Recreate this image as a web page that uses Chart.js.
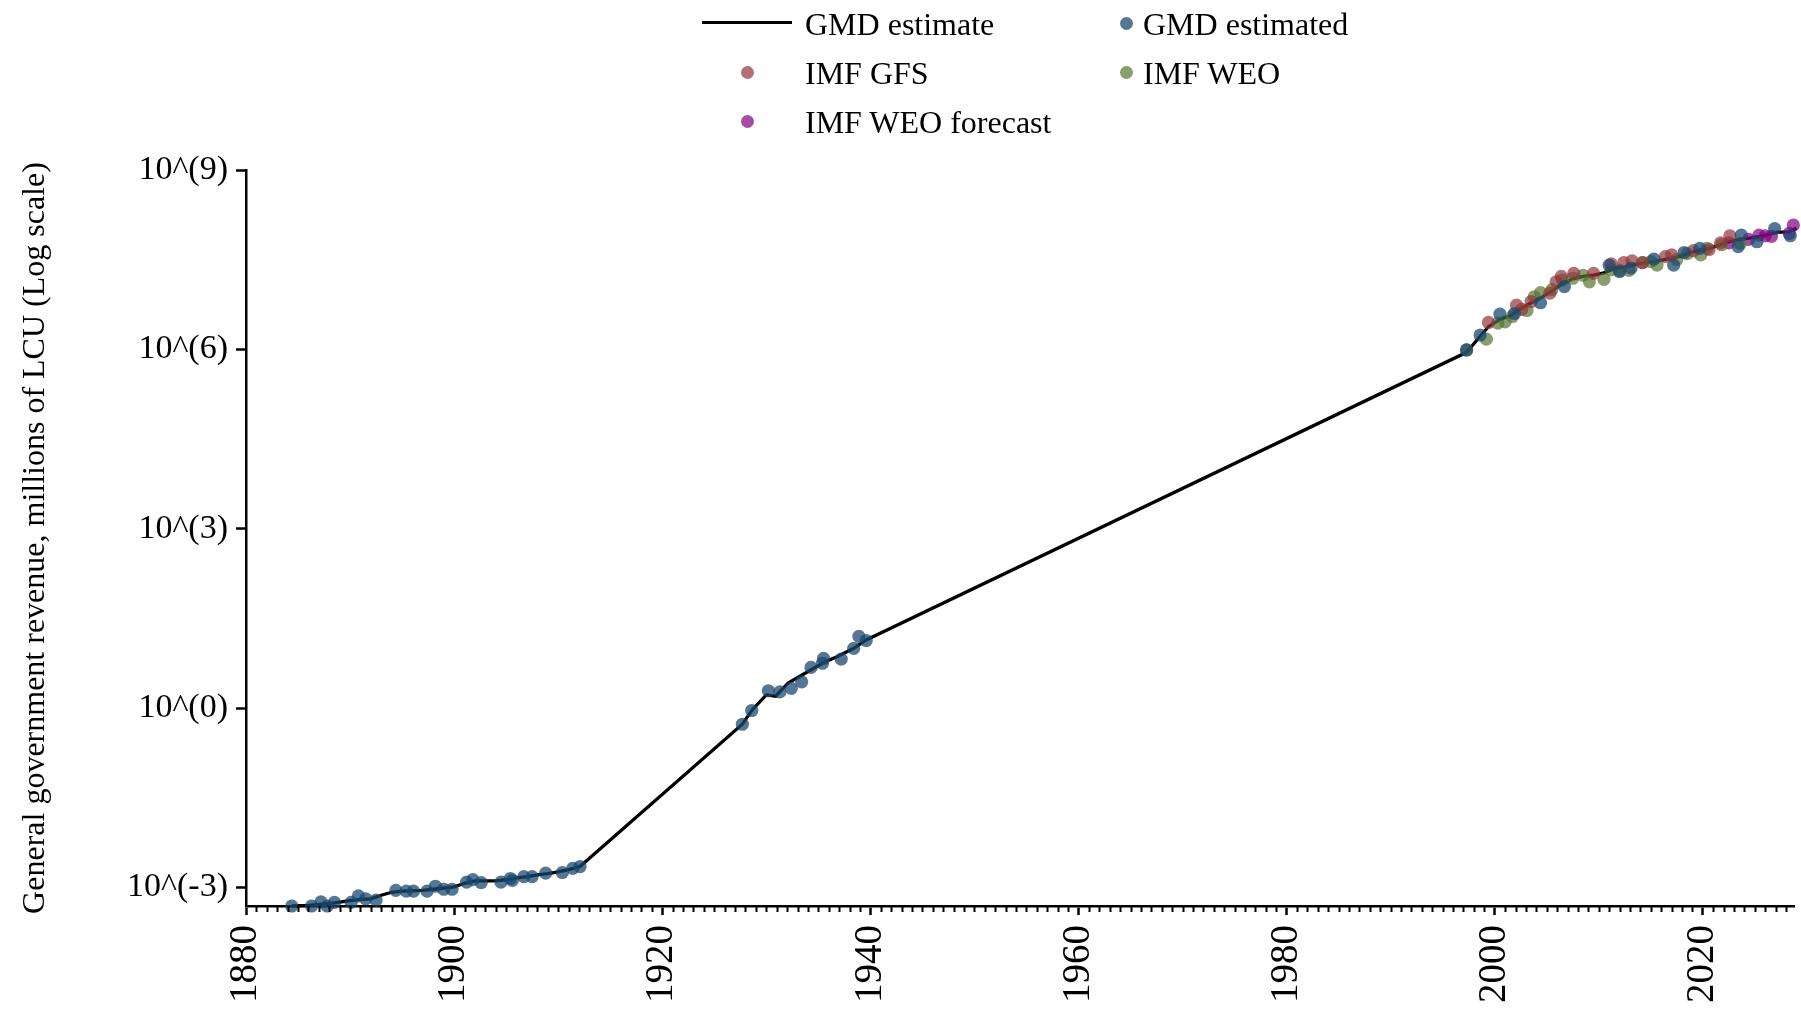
<!DOCTYPE html>
<html>
<head>
<meta charset="utf-8">
<title>General government revenue</title>
<script src="https://cdn.jsdelivr.net/npm/chart.js@4.4.0/dist/chart.umd.min.js"></script>
<style>
    html, body { margin: 0; padding: 0; background: #fff; }
    #wrap { position: relative; width: 1801px; height: 1011px; overflow: hidden; }
    #legend {
        position: absolute; left: 702px; top: 0;
        display: grid; grid-template-columns: 103px 315px 23px auto; grid-auto-rows: 49px;
        align-items: center;
        font-family: "Liberation Serif", "Times New Roman", serif; font-size: 32px; color: #000;
    }
    .sym { position: relative; height: 49px; }
    .sym .line { position: absolute; left: 0; width: 90px; top: 21px; height: 3px; background: #000; }
    .sym .dot { position: absolute; width: 13px; height: 13px; border-radius: 50%; top: 17px; }
</style>
</head>
<body>
<div id="wrap">
    <canvas id="myChart"></canvas>
    <div id="legend"></div>
</div>
<script>
// axis ticks
const xTicks = [1880, 1900, 1920, 1940, 1960, 1980, 2000, 2020];
const yTicks = [-3, 0, 3, 6, 9];

// values are log10(revenue, millions of LCU), the axis is labelled 10^(n)
// GMD estimate (line)
const lineYears = [1884.4, 1886, 1888, 1890, 1891, 1892, 1893, 1894, 1895, 1897, 1898, 1900, 1901, 1902, 1904, 1905, 1906, 1907, 1908, 1909, 1910, 1911, 1912.1,
    1927.7, 1928.6, 1930.0, 1930.9, 1932.1, 1933.4, 1934.5, 1935.7, 1936.8, 1938.4, 1939.6,
    1997.3, 1998.6, 1999.4, 2000.5, 2001.5, 2002.5, 2003.5, 2004.5, 2005.5, 2006.5, 2007.5, 2008.5, 2009.5, 2010.5, 2011.5, 2012.5, 2013.5,
    2014.5, 2015.5, 2016.5, 2017.5, 2018.5, 2019.5, 2020.5, 2021.5, 2022.5, 2023.5, 2024.5, 2025.5, 2026.5, 2027.2, 2028.3, 2029];
const lineLog = [-3.31, -3.30, -3.27, -3.22, -3.20, -3.19, -3.13, -3.08, -3.06, -3.05, -3.03, -2.99, -2.93, -2.89, -2.89, -2.87, -2.84, -2.82, -2.79, -2.77, -2.74, -2.70, -2.65,
    -0.27, -0.04, 0.22, 0.20, 0.42, 0.55, 0.66, 0.78, 0.86, 1.00, 1.14,
    5.95, 6.22, 6.38, 6.50, 6.56, 6.68, 6.78, 6.87, 6.98, 7.10, 7.18, 7.22, 7.24, 7.28, 7.35, 7.38, 7.42,
    7.45, 7.47, 7.51, 7.54, 7.60, 7.65, 7.68, 7.74, 7.80, 7.84, 7.86, 7.89, 7.93, 7.96, 7.96, 8.03];

// GMD estimated
const estYears = [1884.4, 1886.3, 1887.2, 1887.8, 1888.5, 1890.1, 1890.8, 1891.5, 1892.5, 1894.4, 1895.4, 1896.1, 1897.4, 1898.2, 1899.0, 1899.8,
    1901.2, 1901.8, 1902.6, 1904.5, 1905.4, 1905.6, 1906.7, 1907.5, 1908.8, 1910.4, 1911.4, 1912.1,
    1927.7, 1928.6, 1930.2, 1931.3, 1932.4, 1933.4, 1934.3, 1935.4, 1935.5, 1937.2, 1938.4, 1938.9, 1939.6,
    1997.3, 1998.6, 2000.5, 2001.9, 2004.4, 2006.7, 2011.0, 2012.0, 2013.1, 2015.3, 2017.2, 2018.2, 2019.7, 2023.4, 2023.7, 2025.2, 2026.9, 2028.4];
const estLog = [-3.31, -3.31, -3.24, -3.31, -3.25, -3.25, -3.14, -3.19, -3.21, -3.05, -3.06, -3.06, -3.06, -2.98, -3.03, -3.03,
    -2.91, -2.87, -2.92, -2.91, -2.85, -2.88, -2.82, -2.82, -2.76, -2.75, -2.68, -2.65,
    -0.27, -0.04, 0.29, 0.27, 0.33, 0.44, 0.68, 0.75, 0.83, 0.82, 1.00, 1.20, 1.13,
    5.99, 6.24, 6.59, 6.60, 6.78, 7.05, 7.41, 7.30, 7.36, 7.51, 7.41, 7.62, 7.69, 7.72, 7.91, 7.80, 8.02, 7.90];

// IMF GFS
const gfsYears = [1999.4, 2002.1, 2002.6, 2003.5, 2005.3, 2005.9, 2006.4, 2007.6, 2009.5, 2011.2, 2012.4, 2013.2, 2014.2, 2016.4, 2017.0, 2019.1, 2020.6, 2021.7, 2022.6];
const gfsLog = [6.45, 6.74, 6.67, 6.80, 6.94, 7.13, 7.22, 7.27, 7.27, 7.43, 7.45, 7.48, 7.45, 7.55, 7.58, 7.65, 7.67, 7.78, 7.90];

// IMF WEO
const weoYears = [1997.3, 1999.2, 2000.3, 2001.0, 2001.7, 2003.1, 2003.8, 2004.4, 2005.5, 2006.5, 2007.5, 2008.5, 2009.1, 2010.5, 2011.2, 2012.0, 2012.9,
    2014.2, 2015.0, 2015.6, 2017.5, 2018.5, 2019.8, 2020.4, 2021.8, 2023.6];
const weoLog = [5.99, 6.17, 6.44, 6.46, 6.55, 6.65, 6.88, 6.95, 7.00, 7.16, 7.19, 7.24, 7.13, 7.17, 7.33, 7.32, 7.32,
    7.45, 7.47, 7.41, 7.50, 7.60, 7.58, 7.69, 7.75, 7.77];

// IMF WEO forecast
const fcYears = [2022.5, 2024.4, 2025.4, 2026.0, 2026.6, 2028.3, 2028.7];
const fcLog = [7.78, 7.84, 7.91, 7.90, 7.89, 7.94, 8.08];

const serif = '"Liberation Serif", "Times New Roman", serif';

function pts(xs, ys) {
    return xs.map((x, i) => ({ x: x, y: ys[i] }));
}

function dotSet(label, xs, ys, color) {
    return {
        label: label,
        data: pts(xs, ys),
        backgroundColor: color,
        borderWidth: 0,
        pointRadius: 6.6,
        pointHoverRadius: 6.6,
        clip: false,
        order: 1
    };
}

// short yearly ticks under the x axis
const minorTicks = {
    id: 'minorTicks',
    afterDraw(chart) {
        const sx = chart.scales.x;
        const y0 = chart.chartArea.bottom;
        const ctx = chart.ctx;
        ctx.save();
        ctx.strokeStyle = '#000';
        ctx.lineWidth = 2;
        ctx.beginPath();
        for (let yr = Math.ceil(sx.min); yr <= sx.max; yr++) {
            if (yr % 20 === 0) continue;
            const px = Math.round(sx.getPixelForValue(yr)) + 0.5;
            ctx.moveTo(px, y0);
            ctx.lineTo(px, y0 + 6);
        }
        ctx.stroke();
        ctx.restore();
    }
};

const datasets = [
    {
        label: 'GMD estimate',
        data: pts(lineYears, lineLog),
        showLine: true,
        borderColor: '#000',
        borderWidth: 3.3,
        pointRadius: 0,
        pointHoverRadius: 0,
        clip: false,
        order: 5
    },
    dotSet('GMD estimated', estYears, estLog, 'rgba(26, 71, 111, 0.74)'),
    dotSet('IMF GFS', gfsYears, gfsLog, 'rgba(144, 53, 59, 0.7)'),
    dotSet('IMF WEO', weoYears, weoLog, 'rgba(85, 117, 47, 0.7)'),
    dotSet('IMF WEO forecast', fcYears, fcLog, 'rgba(128, 0, 128, 0.7)')
];

const ctx = document.getElementById('myChart').getContext('2d');
const chart = new Chart(ctx, {
    type: 'scatter',
    data: { datasets: datasets },
    options: {
        responsive: true,
        maintainAspectRatio: false,
        animation: false,
        devicePixelRatio: 1,
        events: [],
        layout: { padding: { top: 170, left: 0, right: 0, bottom: 0 } },
        plugins: {
            legend: { display: false },
            tooltip: { enabled: false }
        },
        scales: {
            x: {
                type: 'linear',
                min: 1880,
                max: 2028.8,
                afterBuildTicks: s => { s.ticks = xTicks.map(v => ({ value: v })); },
                afterFit: s => { s.height = 105; },
                border: { display: true, color: '#000', width: 2.5 },
                grid: { drawOnChartArea: false, drawTicks: true, tickLength: 9, tickWidth: 2.5, tickColor: '#000' },
                ticks: {
                    autoSkip: false,
                    maxRotation: 90,
                    minRotation: 90,
                    padding: 10,
                    color: '#000',
                    font: { family: serif, size: 39 },
                    callback: v => String(v)
                }
            },
            y: {
                type: 'linear',
                min: -3.31,
                max: 9,
                afterBuildTicks: s => { s.ticks = yTicks.map(v => ({ value: v })); },
                afterFit: s => { s.width = 246; },
                border: { display: true, color: '#000', width: 2.5 },
                grid: { drawOnChartArea: false, drawTicks: true, tickLength: 10, tickWidth: 2.5, tickColor: '#000' },
                ticks: {
                    padding: 8,
                    color: '#000',
                    font: { family: serif, size: 34 },
                    callback: v => '10^(' + v + ')'
                },
                title: {
                    display: true,
                    text: 'General government revenue, millions of LCU (Log scale)',
                    color: '#000',
                    font: { family: serif, size: 32 },
                    padding: { top: 16, bottom: 0 }
                }
            }
        }
    },
    plugins: [minorTicks]
});

// legend laid out in two columns like the original
function buildLegend() {
    const box = document.getElementById('legend');
    const order = [0, 1, 2, 3, 4];
    order.forEach((idx, n) => {
        const ds = datasets[idx];
        const sym = document.createElement('div');
        sym.className = 'sym';
        const mark = document.createElement('div');
        if (ds.showLine) {
            mark.className = 'line';
        } else {
            mark.className = 'dot';
            mark.style.background = ds.backgroundColor;
            mark.style.left = (n % 2 === 0) ? '38.5px' : '0px';
        }
        sym.appendChild(mark);
        const txt = document.createElement('div');
        txt.textContent = ds.label;
        box.appendChild(sym);
        box.appendChild(txt);
    });
}
buildLegend();
</script>
</body>
</html>
